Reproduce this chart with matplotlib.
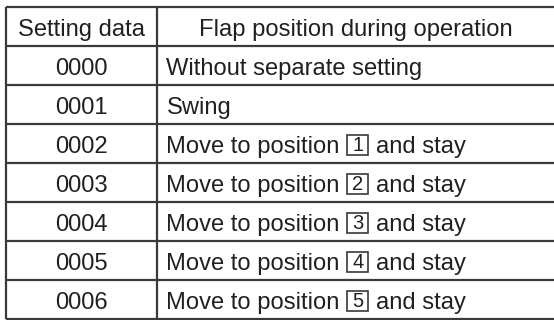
import matplotlib
matplotlib.use("Agg")
import matplotlib.pyplot as plt
from matplotlib.patches import Rectangle

plt.rcParams['font.family'] = ['Liberation Sans', 'DejaVu Sans']

headers = ["Setting data", "Flap position during operation"]
codes = ["0000", "0001", "0002", "0003", "0004", "0005", "0006"]
before = ["Without separate setting", "Swing", "Move to position", "Move to position",
          "Move to position", "Move to position", "Move to position"]
boxed = [None, None, "1", "2", "3", "4", "5"]
after = ["", "", "and stay", "and stay", "and stay", "and stay", "and stay"]

W, H = 554, 320
top, row_h = 6.5, 39
left, split, right = 6, 157, 554
txt_col = "#231f20"
line_col = "#3a3a3a"
fs = 17.1
px = fs * 100 / 72          # em size in pixels
cap_h = 0.716 * px

fig = plt.figure(figsize=(W / 100, H / 100), dpi=100)
ax = fig.add_axes([0, 0, 1, 1])
ax.set_xlim(0, W)
ax.set_ylim(H, 0)
ax.axis('off')

nrows = len(codes) + 1
ys = [top + row_h * i for i in range(nrows + 1)]
ax.hlines(ys, left, right, color=line_col, lw=1.6)
ax.vlines([left, split], ys[0], ys[-1], color=line_col, lw=1.6)

def base(i):
    # baseline of text in row i (text sits slightly below row centre)
    return top + row_h * (i + 0.5) + 1.5 + cap_h / 2

ax.text((left + split) / 2, base(0), headers[0], ha='center', va='baseline',
        fontsize=fs, color=txt_col)
ax.text((split + right) / 2, base(0), headers[1], ha='center', va='baseline',
        fontsize=fs, color=txt_col)

fig.canvas.draw()
renderer = fig.canvas.get_renderer()
inv = ax.transData.inverted()

for i, code in enumerate(codes):
    b = base(i + 1)
    ax.text((left + split) / 2, b, code, ha='center', va='baseline',
            fontsize=fs, color=txt_col)
    t = ax.text(split + 9.5, b, before[i], ha='left', va='baseline',
                fontsize=fs, color=txt_col)
    if boxed[i] is not None:
        bb = t.get_window_extent(renderer)
        x_end = inv.transform((bb.x1, bb.y0))[0]
        bx = x_end + 7.5
        bw, bh = 21, 20
        ax.add_patch(Rectangle((bx, b + 1.5 - bh), bw, bh, fill=False,
                               ec=line_col, lw=1.2))
        ax.text(bx + bw / 2, b - 2, boxed[i], ha='center', va='baseline',
                fontsize=14.5, color=txt_col)
        ax.text(bx + bw + 8, b, after[i], ha='left', va='baseline',
                fontsize=fs, color=txt_col)

fig.savefig("out.png", dpi=100)
